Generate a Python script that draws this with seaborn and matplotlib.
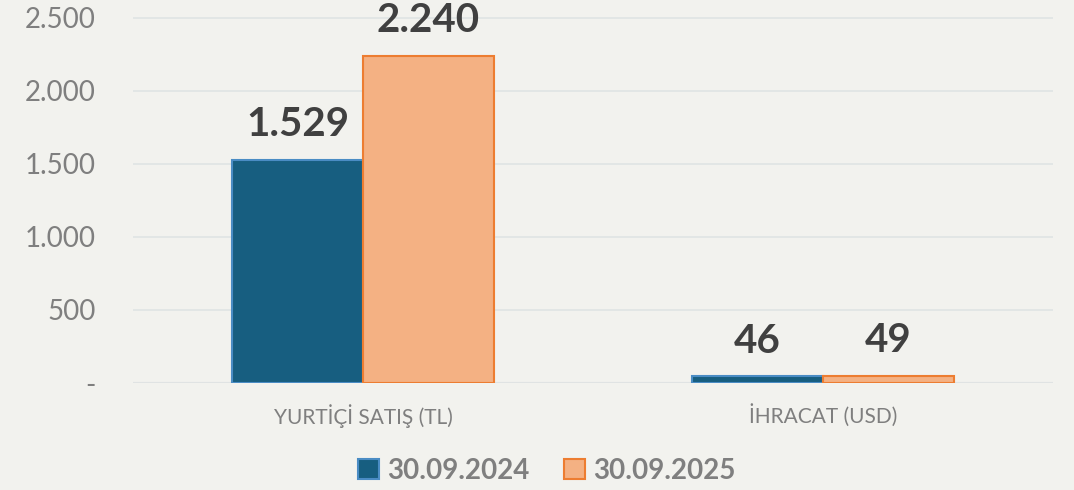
"""
Yurtiçi satış ve ihracat karşılaştırma grafiği
"""

import matplotlib
matplotlib.use("Agg")
import matplotlib.pyplot as plt
import matplotlib.ticker as mticker
from matplotlib.patches import Patch
import seaborn as sns
import pandas as pd

# Data
categories = ["YURTİÇİ SATIŞ (TL)", "İHRACAT (USD)"]
periods = ["30.09.2024", "30.09.2025"]
values_2024 = [1529, 46]
values_2025 = [2240, 49]

fill_colors = ["#175E80", "#F4B183"]
edge_colors = ["#4A8CC4", "#ED7D31"]
bg_color = "#F2F2EE"

df = pd.DataFrame({
    "category": categories * 2,
    "period": [periods[0]] * 2 + [periods[1]] * 2,
    "value": values_2024 + values_2025,
})

sns.set_style("white")
plt.rcParams["font.family"] = ["Lato", "DejaVu Sans"]

fig = plt.figure(figsize=(10.74, 4.9), dpi=100, facecolor=bg_color)
ax = fig.add_axes([133 / 1074, 1 - 383 / 490, 920 / 1074, 383 / 490])
ax.set_facecolor(bg_color)

sns.barplot(data=df, x="category", y="value", hue="period", order=categories,
            hue_order=periods, palette=fill_colors, saturation=1, width=0.57, gap=0,
            linewidth=1.5, ax=ax, legend=False)

for cont, ec in zip(ax.containers, edge_colors):
    for bar in cont:
        bar.set_edgecolor(ec)
    ax.bar_label(cont, labels=[f"{v:,.0f}".replace(",", ".") for v in cont.datavalues],
                 padding=12, fontsize=29, fontweight="bold", color="#404040")

ax.set_xlim(-0.5, 1.5)
ax.set_ylim(0, 2623)
ax.yaxis.set_major_locator(mticker.MultipleLocator(500))
ax.yaxis.set_major_formatter(mticker.FuncFormatter(
    lambda v, _: "-" if v == 0 else f"{v:,.0f}".replace(",", ".")))
ax.grid(axis="y", color="#E1E5E5", linewidth=1.3)
ax.set_axisbelow(True)
for s in ax.spines.values():
    s.set_visible(False)
ax.axhline(0, color="#D9D9D9", linewidth=1.5, zorder=0.5)

ax.tick_params(axis="y", length=0, pad=27, labelsize=20, labelcolor="#7F7F7F")
ax.tick_params(axis="x", length=0, pad=15, labelsize=15, labelcolor="#7F7F7F")
ax.set_xlabel("")
ax.set_ylabel("")

handles = [Patch(facecolor=fc, edgecolor=ec, linewidth=1.5) for fc, ec in zip(fill_colors, edge_colors)]
leg = fig.legend(handles, periods, loc="center", bbox_to_anchor=(0.509, 1 - 471 / 490),
                 ncol=2, frameon=False, handlelength=0.75, handleheight=0.75,
                 handletextpad=0.3, columnspacing=1.25,
                 prop={"size": 20, "weight": "bold"})
for t in leg.get_texts():
    t.set_color("#7F7F7F")

fig.savefig("out.png", dpi=100, facecolor=bg_color)
